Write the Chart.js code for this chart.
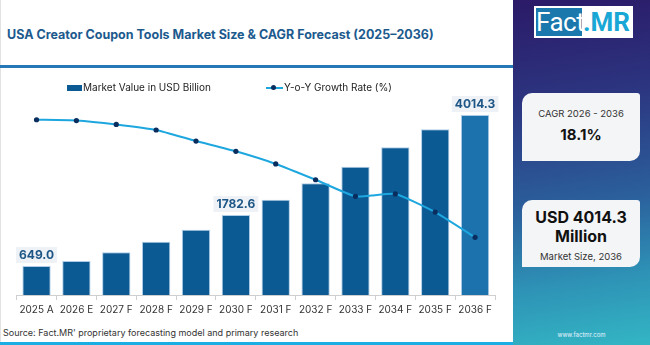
<!DOCTYPE html>
<html><head><meta charset="utf-8">
<script src="https://cdn.jsdelivr.net/npm/chart.js@4.4.1/dist/chart.umd.min.js"></script>
<style>
html,body{margin:0;padding:0;width:650px;height:345px;overflow:hidden;background:#fff;font-family:Inter,"Open Sans",sans-serif;}
#wrap{position:relative;width:650px;height:345px;}
#title{position:absolute;left:7px;top:27px;font-weight:700;font-size:12.5px;color:#1c5a8e;white-space:nowrap;}
#topline{position:absolute;left:0;top:65px;width:513px;height:3px;background:#2677b6;}
#botline{position:absolute;left:0;top:342px;width:513px;height:3px;background:#1aaee3;}
#lborder{position:absolute;left:0;top:0;width:1px;height:342px;background:#e2e2e2;}
#source{position:absolute;left:3px;top:327px;font-size:9px;color:#333;white-space:nowrap;}
#cwrap{position:absolute;left:0;top:70px;width:513px;height:255px;}
#legend{position:absolute;top:81px;left:0;font-size:10px;color:#222;white-space:nowrap;}
.lg{position:absolute;top:0;line-height:12px;}
.sw{position:absolute;}
#panel{position:absolute;left:513px;top:0;width:137px;height:345px;background:linear-gradient(172deg,#2b1a68 0%,#2c347f 28%,#2b5f9c 58%,#2e92b6 80%,#33b6c4 100%);}
#logo{position:absolute;left:21px;top:6px;width:99px;height:32px;background:#fff;}
#fact{position:absolute;left:2px;top:2px;width:46px;height:28px;background:#1a78ad;color:#fff;font-family:"Liberation Sans Narrow","Roboto",sans-serif;font-size:26px;line-height:28px;text-align:center;letter-spacing:-0.5px;}
#mr{position:absolute;left:49px;top:2px;height:28px;color:#19a7d6;font-family:"Liberation Sans Narrow","Roboto",sans-serif;font-size:26px;line-height:28px;font-weight:700;}
.card{position:absolute;left:9px;width:118px;background:#f4f5f7;border-radius:10px 3px 10px 0;text-align:center;color:#111;}
#c1{top:93px;height:68px;}
#c2{top:200px;height:67px;}
.small{font-size:9.5px;color:#333;}
.big{font-weight:700;}
#web{position:absolute;left:0;width:137px;top:331px;text-align:center;color:#e8f4ff;font-size:6px;}
</style></head>
<body><div id="wrap">
<div id="lborder"></div>
<div id="title">USA Creator Coupon Tools Market Size &amp; CAGR Forecast (2025–2036)</div>
<div id="topline"></div>
<div id="cwrap"><canvas id="c" width="513" height="255"></canvas></div>
<div id="legend">
  <div class="sw" style="left:67px;top:4px;width:15px;height:6px;background:#0b5a94;"></div>
  <div class="lg" style="left:83px;">Market Value in USD Billion</div>
  <div class="sw" style="left:266px;top:6px;width:17px;height:2px;background:#1ea7df;"></div>
  <div class="sw" style="left:271px;top:4px;width:5px;height:5px;border-radius:50%;background:#0a2d5e;"></div>
  <div class="lg" style="left:284px;">Y-o-Y Growth Rate (%)</div>
</div>
<div id="source">Source: Fact.MR' proprietary forecasting model and primary research</div>
<div id="botline"></div>
<div id="panel">
  <div id="logo"><div id="fact">Fact</div><div id="mr">.MR</div></div>
  <div class="card" id="c1">
    <div class="small" style="margin-top:15px;">CAGR 2026 - 2036</div>
    <div class="big" style="font-size:15px;margin-top:6px;">18.1%</div>
  </div>
  <div class="card" id="c2">
    <div class="big" style="font-size:16px;line-height:19px;margin-top:8px;">USD 4014.3<br>Million</div>
    <div class="small" style="margin-top:5px;">Market Size, 2036</div>
  </div>
  <div id="web">www.factmr.com</div>
</div>
</div>
<script>
const categories = ["2025 A","2026 E","2027 F","2028 F","2029 F","2030 F","2031 F","2032 F","2033 F","2034 F","2035 F","2036 F"];
const marketValue = [649.0, 758, 952, 1189, 1457, 1782.6, 2126, 2491, 2862, 3294, 3697, 4014.3];
const growthRate = [22.2, 22.1, 21.6, 20.9, 19.5, 18.2, 16.6, 14.6, 12.5, 12.8, 10.5, 7.3];
const labelledBars = [0, 5, 11];

const barColors = marketValue.map((v,i)=> i===marketValue.length-1 ? '#1c72ad' : '#0b5a94');

const labelPlugin = {
  id:'barLabels',
  afterDatasetsDraw(chart){
    const ctx = chart.ctx;
    const meta = chart.getDatasetMeta(1);
    ctx.save();
    ctx.font = '700 12px Inter, "Open Sans", sans-serif';
    ctx.textAlign = 'center';
    ctx.textBaseline = 'middle';
    labelledBars.forEach(i=>{
      const el = meta.data[i];
      const txt = marketValue[i].toFixed(1);
      const w = ctx.measureText(txt).width + 6;
      const cy = el.y - 11;
      ctx.fillStyle = '#eef1f5';
      ctx.fillRect(el.x - w/2, cy - 8, w, 16);
      ctx.fillStyle = '#1d5686';
      ctx.fillText(txt, el.x, cy);
    });
    ctx.restore();
  }
};

new Chart(document.getElementById('c'), {
  data:{
    labels: categories,
    datasets:[
      {type:'line', label:'Y-o-Y Growth Rate (%)', data: growthRate, yAxisID:'y1',
       borderColor:'#1ea7df', borderWidth:2, pointRadius:2.6, pointBackgroundColor:'#0a2d5e',
       pointBorderColor:'#0a2d5e', pointBorderWidth:0, tension:0.15, order:0},
      {type:'bar', label:'Market Value in USD Billion', data: marketValue, yAxisID:'y',
       backgroundColor: barColors, borderColor:'rgba(120,170,215,0.6)', borderWidth:{top:1,left:1,right:1,bottom:0},
       categoryPercentage:0.71, barPercentage:1.0, order:1}
    ]
  },
  options:{
    responsive:false, animation:false,
    layout:{padding:{left:16.6, right:18, top:30, bottom:5}},
    plugins:{legend:{display:false}, tooltip:{enabled:false}},
    scales:{
      x:{
        grid:{display:true, drawOnChartArea:false, tickLength:5, color:'#cfcfcf'},
        border:{display:true, color:'#cfcfcf'},
        ticks:{color:'#333', font:{size:10, family:'Inter, "Open Sans", sans-serif'}, padding:4, maxRotation:0, autoSkip:false}
      },
      y:{display:false, min:0, max:4350},
      y1:{display:false, min:0, max:24.7}
    }
  },
  plugins:[labelPlugin]
});
</script>
</body></html>
